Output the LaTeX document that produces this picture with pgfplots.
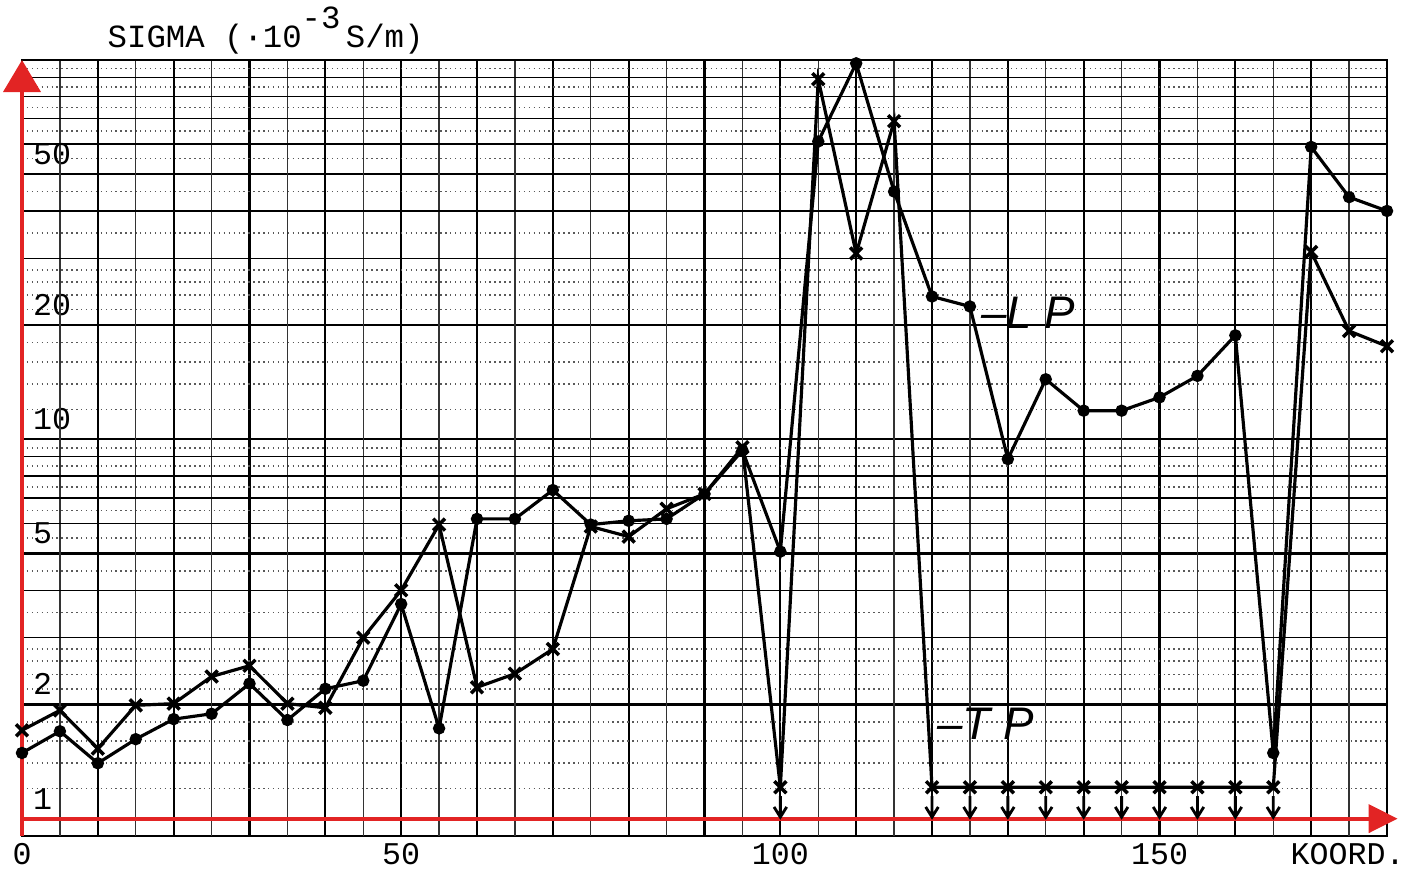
\documentclass[border=0pt]{standalone}
\usepackage{fontspec}
\setmainfont{Liberation Mono}
\newfontfamily\handfont{Liberation Sans}
\usepackage{pgfplots}
\usepackage{pgfplotstable}
\pgfplotsset{compat=1.18}
\usetikzlibrary{arrows.meta}
\definecolor{axred}{RGB}{226,36,36}

% arrow pointing down under a point: value below detection
\pgfdeclareplotmark{darrow}{%
  \pgfpathmoveto{\pgfqpoint{0pt}{-2.5pt}}%
  \pgfpathlineto{\pgfqpoint{0pt}{-8.5pt}}%
  \pgfpathmoveto{\pgfqpoint{-1.8pt}{-5.6pt}}%
  \pgfpathlineto{\pgfqpoint{0pt}{-8.5pt}}%
  \pgfpathlineto{\pgfqpoint{1.8pt}{-5.6pt}}%
  \pgfusepathqstroke}

% TP, crosses
\pgfplotstableread{
x y
0 1.71
5 1.93
10 1.53
15 1.99
20 2.01
25 2.37
30 2.53
35 2.01
40 1.96
45 3.00
50 4.00
55 5.96
60 2.22
65 2.41
70 2.80
75 5.89
80 5.54
85 6.56
90 7.18
95 9.53
100 1.21
105 89
110 30.9
115 69
120 1.21
125 1.21
130 1.21
135 1.21
140 1.21
145 1.21
150 1.21
155 1.21
160 1.21
165 1.21
170 31.2
175 19.3
180 17.6
}\tpdata

% TP below detection
\pgfplotstableread{
x y
100 1.21
120 1.21
125 1.21
130 1.21
135 1.21
140 1.21
145 1.21
150 1.21
155 1.21
160 1.21
165 1.21
}\tplow

% LP, dots
\pgfplotstableread{
x y
0 1.49
5 1.70
10 1.40
15 1.62
20 1.83
25 1.89
30 2.27
35 1.82
40 2.20
45 2.31
50 3.68
55 1.73
60 6.17
65 6.17
70 7.35
75 5.96
80 6.10
85 6.17
90 7.18
95 9.35
100 5.06
105 61
110 98
115 45
120 23.8
125 22.4
130 8.87
135 14.4
140 11.9
145 11.9
150 12.9
155 14.7
160 18.8
165 1.49
170 59
175 43.5
180 40
}\lpdata

\begin{document}
\begin{tikzpicture}
\begin{axis}[
  at={(0,0)}, anchor=south west,
  scale only axis, width=13.65cm, height=7.76cm,
  ymode=log,
  xmin=0, xmax=180, ymin=0.9, ymax=100,
  clip=false,
  xtick={0,10,...,180},
  xticklabels={0,,,,,50,,,,,100,,,,,150,,,},
  extra x ticks={5,15,...,175},
  extra x tick labels={},
  extra x tick style={grid=major, major grid style={black!80, line width=0.35pt}},
  ytick={1,2,5,10,20,50},
  yticklabels={1,2,5,10,20,50},
  extra y ticks={3,4,6,7,8,9,30,40,60,70,80,90,100},
  extra y tick labels={},
  extra y tick style={grid=major, major grid style={black, line width=0.4pt}},
  minor ytick={1.2,1.4,1.6,1.8,2.2,2.4,2.6,2.8,3.5,4.5,5.5,6.5,7.5,8.5,9.5,
    12,14,16,18,22,24,26,28,35,45,55,65,75,85,95},
  grid=both,
  major grid style={black, line width=0.6pt},
  minor grid style={black!65, densely dotted, line width=0.45pt},
  tick style={draw=none},
  axis line style={black, line width=0.5pt},
  /pgf/number format/assume math mode=true,
  ticklabel style={font=\fontsize{9}{10}\selectfont},
  yticklabel style={anchor=south west, inner sep=1pt, xshift=2pt, yshift=1.5pt},
  xticklabel style={anchor=base, inner sep=0pt, yshift=-8.2pt},
]
\addplot[black, line width=0.9pt, mark=x, mark size=2.4pt,
  mark options={line width=1pt}] table {\tpdata};
\addplot[black, only marks, mark=darrow, mark options={line width=0.8pt}] table {\tplow};
\addplot[black, line width=0.9pt, mark=*, mark size=1.3pt] table {\lpdata};

\draw[axred, line width=1.1pt, -{Triangle[length=0.32cm, width=0.37cm]}]
  (axis cs:0,0.9) -- (axis cs:0,100);
\draw[axred, line width=1.1pt, -{Triangle[length=0.29cm, width=0.28cm]}]
  (axis cs:0,1) -- (axis cs:181.4,1);

\node[anchor=base west, font=\fontsize{9.2}{10}\selectfont, inner sep=0pt]
  at (rel axis cs:0,1) [xshift=0.85cm, yshift=0.13cm]
  {SIGMA (·10\raisebox{1.1ex}{-3}\,S/m)};
\node[anchor=base west, font=\fontsize{9}{10}\selectfont, inner sep=0pt]
  at (axis cs:167.2,0.9) [yshift=-0.28cm] {KOORD.};
\node[anchor=base west, font=\handfont\itshape\fontsize{13}{13}\selectfont, inner sep=0pt]
  at (axis cs:126.4,19.6) {–L P};
\node[anchor=base west, font=\handfont\itshape\fontsize{13}{13}\selectfont, inner sep=0pt]
  at (axis cs:120.6,1.62) {–T P};
\end{axis}
\pgfresetboundingbox
\path (-0.22cm,-0.35cm) rectangle (13.85cm,8.36cm);
\end{tikzpicture}
\end{document}
